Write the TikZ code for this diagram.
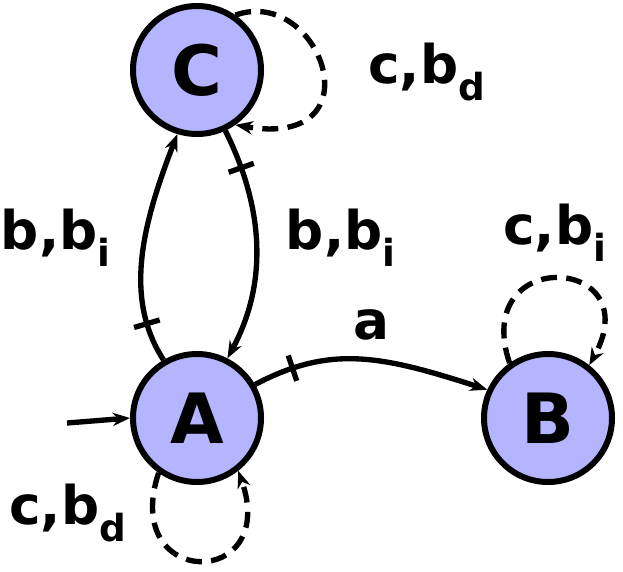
\documentclass[tikz,border=0pt]{standalone}
\usepackage{fontspec}
\setmainfont{DejaVu Sans}
\usetikzlibrary{arrows.meta,decorations.markings}
\definecolor{nodeblue}{RGB}{180,180,255}
\tikzset{
 st/.style={circle,draw,line width=4.5pt,fill=nodeblue,minimum size=96pt,inner sep=0pt,font=\fontsize{52}{52}\selectfont\bfseries},
 edge/.style={line width=4pt,-{Stealth[length=13pt,width=10pt]}},
 lbl/.style={font=\fontsize{40}{40}\selectfont\bfseries,inner sep=0pt},
 tick/.style={postaction={decorate},decoration={markings,mark=at position #1 with {\draw[line width=4pt,-] (0,-10pt)--(0,10pt);}}}
}
\begin{document}
\begin{tikzpicture}[x=0.75pt,y=-0.75pt]
\useasboundingbox (0,0) rectangle (623,571);
\node[st] (C) at (197,70) {C};
\node[st] (A) at (197,418) {A};
\node[st] (B) at (548,418) {B};
\coordinate (init) at (67,423);
\draw[edge] (init) -- (A.west);
\draw[edge,tick=0.17] (A.120) .. controls (125,300) and (140,230) .. (C.253);
\draw[edge,tick=0.17] (C.295) .. controls (255,190) and (275,270) .. (A.63);
\draw[edge,tick=0.17] (A.30) .. controls (330,345) and (380,355) .. (B.155);
\draw[edge,dashed,dash pattern=on 12pt off 7pt] (C.55) .. controls (320,-15) and (380,150) .. (C.-55);
\draw[edge,dashed,dash pattern=on 12pt off 7pt] (B.125) .. controls (470,245) and (650,255) .. (B.52);
\draw[edge,dashed,dash pattern=on 12pt off 7pt] (A.-125) .. controls (120,590) and (280,590) .. (A.-52);
\node[lbl] (la) at (371,325) {a};
\node[lbl] (lc) at (427,72) {c,b$_\mathbf{d}$};
\node[lbl] (lb) at (555,233) {c,b$_\mathbf{i}$};
\node[lbl] (lA) at (68,513) {c,b$_\mathbf{d}$};
\node[lbl] (l1) at (56,238) {b,b$_\mathbf{i}$};
\node[lbl] (l2) at (341,238) {b,b$_\mathbf{i}$};
\end{tikzpicture}
\end{document}
